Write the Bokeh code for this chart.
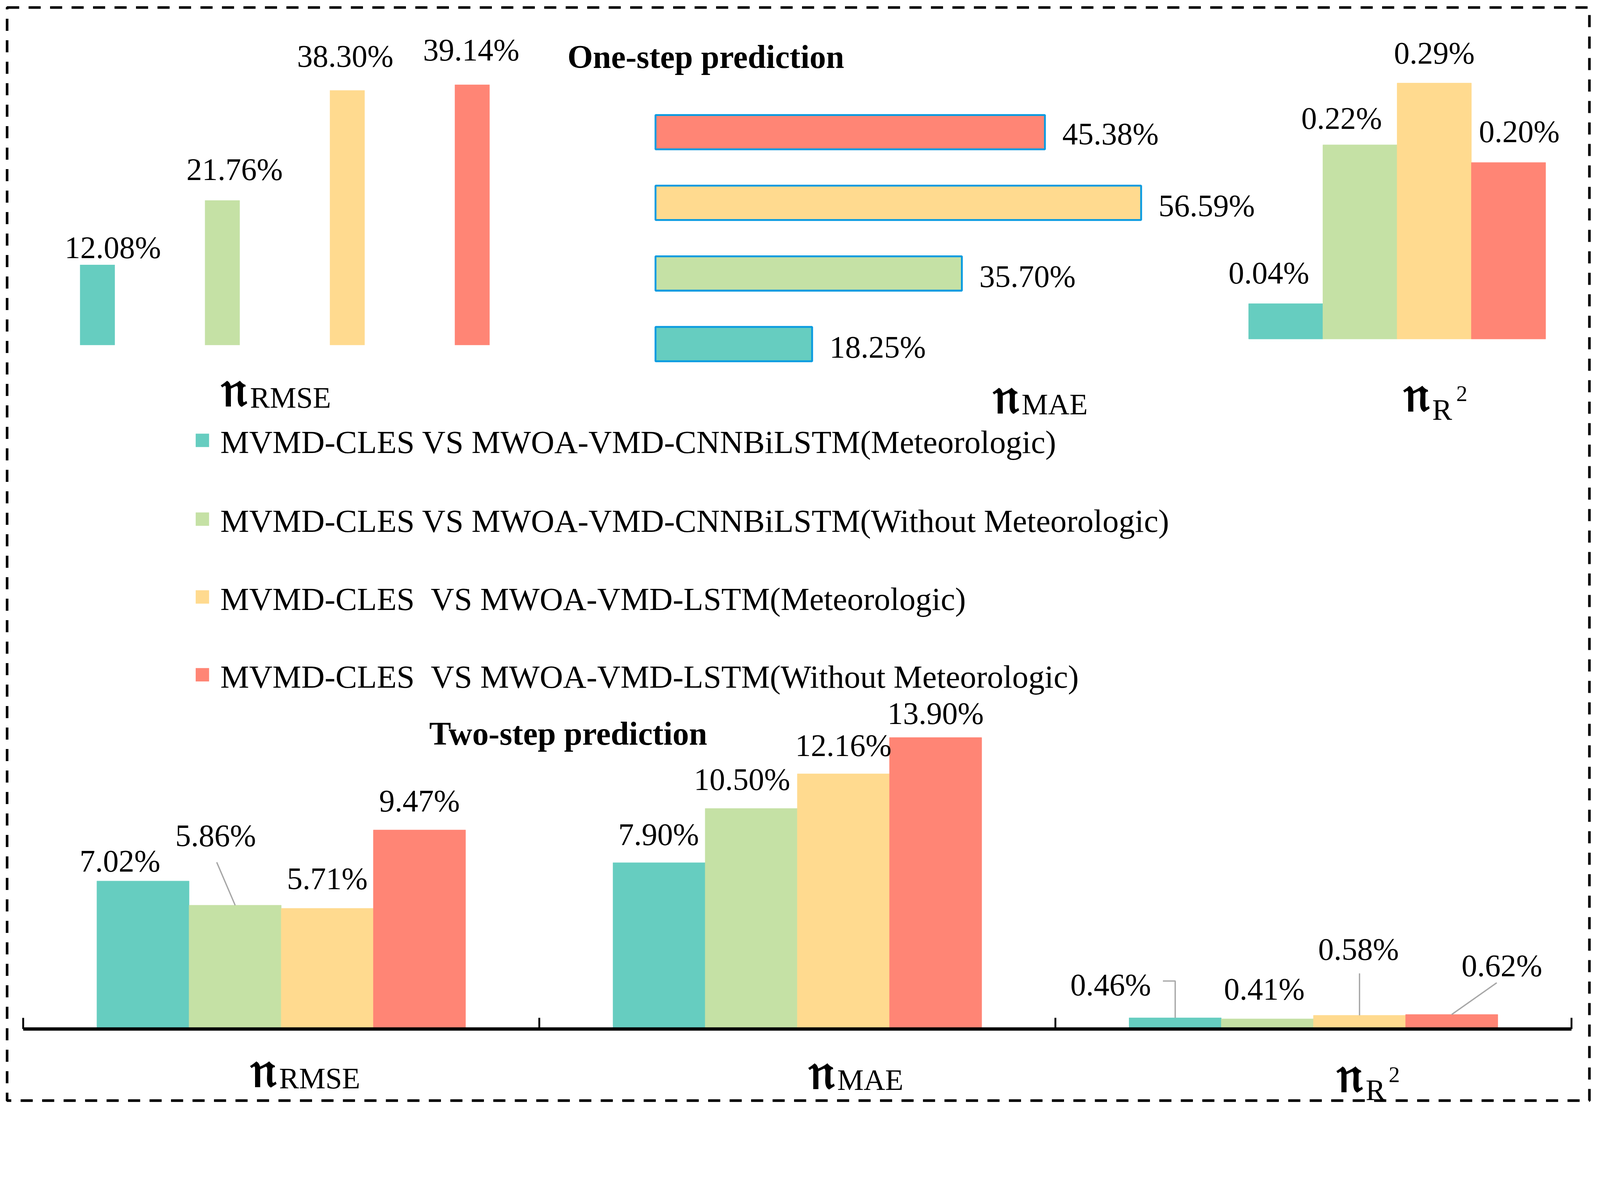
from bokeh.plotting import figure
from bokeh.models import Range1d, BoxAnnotation
from bokeh.embed import file_html
from bokeh.resources import INLINE
from bokeh.core.properties import value

# ---------------- data ----------------
series = [
    "MVMD-CLES VS MWOA-VMD-CNNBiLSTM(Meteorologic)",
    "MVMD-CLES VS MWOA-VMD-CNNBiLSTM(Without Meteorologic)",
    "MVMD-CLES  VS MWOA-VMD-LSTM(Meteorologic)",
    "MVMD-CLES  VS MWOA-VMD-LSTM(Without Meteorologic)",
]
colors = ["#66CDC0", "#C5E1A5", "#FFDA8F", "#FF8575"]
metric_subs = ["RMSE", "MAE", "R"]
one_step_rmse = [12.08, 21.76, 38.30, 39.14]
one_step_mae = [18.25, 35.70, 56.59, 45.38]
one_step_r2 = [0.04, 0.22, 0.29, 0.20]
two_step_rmse = [7.02, 5.86, 5.71, 9.47]
two_step_mae = [7.90, 10.50, 12.16, 13.90]
two_step_r2 = [0.46, 0.41, 0.58, 0.62]
title_one = "One-step prediction"
title_two = "Two-step prediction"
eta_char = "\U0001D52B"

# ---------------- layout ----------------
F = 1.05                      # device px per css px observed in the screenshot
S = 4316 / 1568.0
W = int(round(4316 / F)) - 16
H = int(round(3014 / F)) - 16
FONT = "Liberation Serif"


def o(d):
    return d * S / F


def c(px):
    return px / F


TY = o(-8.5)                  # baseline correction for all texts
LBL = c(84)
LBL_BASE = 0.33 * LBL + TY

p = figure(width=W, height=H, x_range=Range1d(8, 8 + W), y_range=Range1d(8 + H, 8),
           output_backend="svg", toolbar_location=None, min_border=0,
           x_axis_location=None, y_axis_location=None)
p.grid.visible = False
p.outline_line_color = None
p.background_fill_color = "white"
p.border_fill_color = "white"


def xr(p0, k):
    p0 = o(p0) - 8
    k = o(k)
    return Range1d(start=-p0 / k, end=(W - p0) / k)


def yr(p0, k):
    p0 = o(p0) - 8
    k = o(k)
    return Range1d(start=-(H - p0) / k, end=p0 / k)


p.extra_x_ranges = {"rmse1": xr(98, 122), "mae1": xr(643, 8.38),
                    "r21": xr(1258.5, 72.5), "two": xr(277.5, 504)}
p.extra_y_ranges = {"rmse1": yr(340, 6.5), "mae1": yr(339, 69),
                    "r21": yr(334, 862), "two": yr(1006.5, 20.37)}


def labels(xs, ys, vals, dxs, dys, rx, ry, align="center"):
    p.text(x=xs, y=ys, text=[f"{v:.2f}%" for v in vals],
           x_offset=[o(d) for d in dxs], y_offset=[o(d) + LBL_BASE for d in dys],
           text_font=value(FONT), text_font_size=f"{LBL:.1f}px", text_color="black",
           text_align=align, text_baseline="alphabetic",
           x_range_name=rx, y_range_name=ry)


idx = list(range(4))

# one-step RMSE (thin vertical bars)
p.vbar(x=idx, top=one_step_rmse, bottom=0, width=0.279, fill_color=colors,
       line_color=None, x_range_name="rmse1", y_range_name="rmse1")
labels(idx, one_step_rmse, one_step_rmse, [15, 12, -2, -1], [-18.5, -31.6, -35, -35.6],
       "rmse1", "rmse1")

# one-step MAE (horizontal bars with blue outline)
p.hbar(y=idx, left=0, right=one_step_mae, height=0.486, fill_color=colors,
       line_color="#0A9BE0", line_width=c(5), x_range_name="mae1", y_range_name="mae1")
labels(one_step_mae, idx, one_step_mae, [17] * 4, [1.5, 1.5, 1.5, 0], "mae1", "mae1",
       align="left")

# one-step R2 (adjacent vertical bars)
p.vbar(x=idx, top=one_step_r2, bottom=0, width=1.0, fill_color=colors,
       line_color=colors, line_width=1, x_range_name="r21", y_range_name="r21")
labels(idx, one_step_r2, one_step_r2, [-16.5, -18, 0, 10.5], [-31.5, -27.4, -31, -31.6],
       "r21", "r21")

# two-step grouped bars
bw = 90 / 504
xs = [g + (j - 1.5) * bw for g in range(3) for j in range(4)]
tops = two_step_rmse + two_step_mae + two_step_r2
cols = colors * 3
p.vbar(x=xs, top=tops, bottom=0, width=bw, fill_color=cols, line_color=cols,
       line_width=1, x_range_name="two", y_range_name="two")
labels(xs, tops, tops,
       [-22.5, -19, 0, 0, -0.5, -9, 0, 0, -63, -3, -1, 49],
       [-21, -69.6, -30.7, -30, -29, -30, -29.3, -25, -33.6, -30.6, -66, -49.4],
       "two", "two")

# leader lines (offsets in display px from bar top)
leaders = {1: [(0, 0), (-18, -42)], 8: [(0, 0), (0, -36), (-12, -36)],
           10: [(0, 0), (0, -41)], 11: [(0, 0), (44, -31)]}
lx, ly = [], []
for i, pts in leaders.items():
    lx.append([xs[i] + dx / 504 for dx, dy in pts])
    ly.append([tops[i] - dy / 20.37 for dx, dy in pts])
p.multi_line(xs=lx, ys=ly, line_color="#A6A6A6", line_width=c(3.5),
             x_range_name="two", y_range_name="two")

# bottom axis line and ticks at group boundaries
bounds = [g - 0.5 for g in range(4)]
p.segment(x0=[bounds[0]], x1=[bounds[-1]], y0=[o(1008)], y1=[o(1008)],
          line_color="black", line_width=c(9), x_range_name="two")
p.segment(x0=bounds, x1=bounds, y0=[o(1008)] * 4, y1=[o(1008) - c(30)] * 4,
          line_color="black", line_width=c(5), x_range_name="two")

# legend
leg_y = [433, 510, 586, 662]
p.rect(x=[o(200.5)] * 4, y=[o(v) for v in leg_y], width=c(36), height=c(36),
       fill_color=colors, line_color=None)
p.text(x=[o(218)] * 4, y=[o(v) + c(28.5) + TY for v in leg_y],
       text=[s.replace("  ", " \u00a0") for s in series],
       text_font=value(FONT), text_font_size=f"{c(87):.1f}px", text_color="black",
       text_align="left", text_baseline="alphabetic")

# titles
p.text(x=[o(557), o(422)], y=[o(67) + TY, o(728) + TY], text=[title_one, title_two],
       text_font=value(FONT), text_font_size=f"{c(88):.1f}px", text_font_style="bold",
       text_color="black", text_align="left", text_baseline="alphabetic")

# eta labels: (split x, eta baseline, sub baseline, sub, sup x, sup baseline)
eta_pos = [
    (245.5, 390, 399.6, metric_subs[0], None, None),
    (999, 397, 406, metric_subs[1], None, None),
    (1400, 395, 411.7, metric_subs[2], 1425, 396),
    (274, 1055, 1064.6, metric_subs[0], None, None),
    (819, 1057, 1066, metric_subs[1], None, None),
    (1335, 1060, 1076, metric_subs[2], 1359, 1061),
]
p.text(x=[o(e[0]) - c(4) for e in eta_pos], y=[o(e[1]) + TY for e in eta_pos],
       text=[eta_char] * len(eta_pos),
       text_font=value("DejaVu Serif"), text_font_size=f"{c(138):.1f}px",
       text_font_style="bold",
       text_color="black", text_align="right", text_baseline="alphabetic")
p.text(x=[o(e[0]) + c(4) for e in eta_pos], y=[o(e[2]) + TY for e in eta_pos],
       text=[e[3] for e in eta_pos],
       text_font=value(FONT), text_font_size=f"{c(80):.1f}px", text_color="black",
       text_align="left", text_baseline="alphabetic")
sups = [e for e in eta_pos if e[4] is not None]
p.text(x=[o(e[4]) for e in sups], y=[o(e[5]) + TY for e in sups], text=["2"] * len(sups),
       text_font=value(FONT), text_font_size=f"{c(60):.1f}px", text_color="black",
       text_align="left", text_baseline="alphabetic")

# dashed border
p.add_layout(BoxAnnotation(left=o(9.8), right=o(1555), top=o(10.2), bottom=o(1078),
                           fill_color=None, fill_alpha=0, line_color="black",
                           line_alpha=1.0, line_width=c(7), line_dash="31 24"))

with open("out.html", "w", encoding="utf-8") as f:
    f.write(file_html(p, INLINE))
